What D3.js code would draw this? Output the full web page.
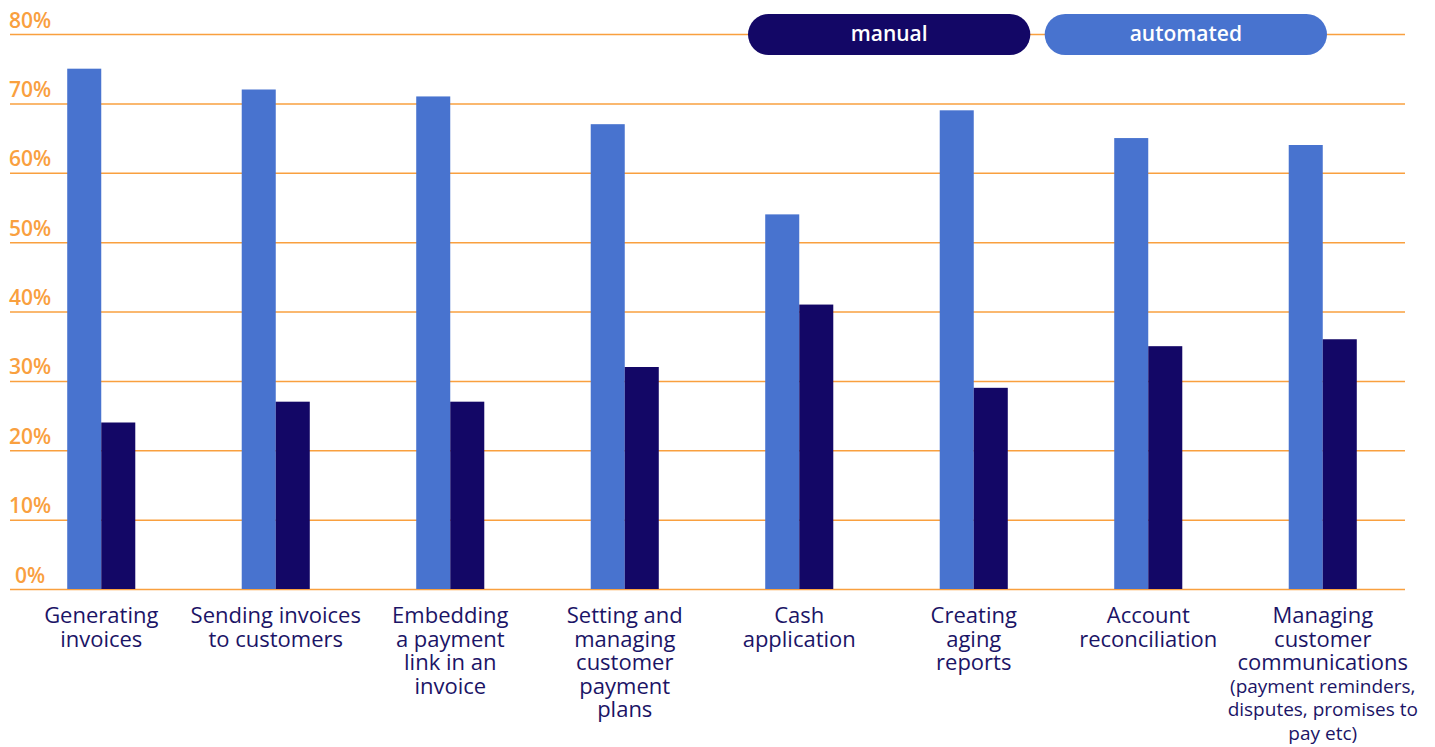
<!DOCTYPE html>
<html>
<head>
<meta charset="utf-8">
<script src="https://cdn.jsdelivr.net/npm/d3@7"></script>
<style>
  body { margin: 0; background: #fff; }
  svg text { font-family: "Open Sans", sans-serif; }
</style>
</head>
<body>
<div id="chart"></div>
<script>
const categories = [
  "Generating invoices",
  "Sending invoices to customers",
  "Embedding a payment link in an invoice",
  "Setting and managing customer payment plans",
  "Cash application",
  "Creating aging reports",
  "Account reconciliation",
  "Managing customer communications"
];
const labelLines = [
  ["Generating", "invoices"],
  ["Sending invoices", "to customers"],
  ["Embedding", "a payment", "link in an", "invoice"],
  ["Setting and", "managing", "customer", "payment", "plans"],
  ["Cash", "application"],
  ["Creating", "aging", "reports"],
  ["Account", "reconciliation"],
  ["Managing", "customer", "communications"]
];
const noteLines = [[], [], [], [], [], [], [], ["(payment reminders,", "disputes, promises to", "pay etc)"]];
const automated = [75, 72, 71, 67, 54, 69, 65, 64];
const manual = [24, 27, 27, 32, 41, 29, 35, 36];
const series = ["automated", "manual"];
const legendOrder = ["manual", "automated"];
const yTicks = [0, 10, 20, 30, 40, 50, 60, 70, 80];

const colors = {automated: "#4873cf", manual: "#130766"};
const orange = "#f9a03f";
const navy = "#1b1466";

const width = 1435, height = 747;

const svg = d3.select("#chart").append("svg")
  .attr("width", width)
  .attr("height", height);

const x = d3.scaleBand().domain(categories).range([14, 1410]).paddingInner(0.61).paddingOuter(0.305);
const xs = d3.scaleBand().domain(series).range([0, x.bandwidth()]);
const y = d3.scaleLinear().domain([0, 80]).range([589, 34]);

// gridlines + tick labels
const yAxis = svg.append("g")
  .call(d3.axisLeft(y).tickValues(yTicks).tickSize(-(1405 - 10)).tickFormat(d => d + "%"))
  .attr("transform", "translate(10,0)");
yAxis.select(".domain").remove();
yAxis.selectAll(".tick line").attr("stroke", orange).attr("stroke-width", 1.5);
yAxis.selectAll(".tick text")
  .attr("x", 20).attr("dy", -7)
  .attr("text-anchor", "middle")
  .attr("fill", orange)
  .style("font-size", "21px").style("font-weight", 600);

// bars
const data = categories.map((c, i) => ({cat: c, automated: automated[i], manual: manual[i]}));
const groups = svg.selectAll("g.grp").data(data).enter().append("g")
  .attr("class", "grp")
  .attr("transform", d => `translate(${x(d.cat)},0)`);
groups.selectAll("rect")
  .data(d => series.map(s => ({s, v: d[s]})))
  .enter().append("rect")
  .attr("x", d => xs(d.s))
  .attr("y", d => y(d.v))
  .attr("width", xs.bandwidth())
  .attr("height", d => y(0) - y(d.v))
  .attr("fill", d => colors[d.s]);

// x labels
categories.forEach((c, i) => {
  const cx = x(c) + x.bandwidth() / 2;
  const t = svg.append("text").attr("text-anchor", "middle").attr("fill", navy);
  labelLines[i].forEach((l, j) => {
    t.append("tspan").attr("x", cx).attr("y", 623 + j * 23.5)
      .style("font-size", "22px").text(l);
  });
  const n = labelLines[i].length;
  noteLines[i].forEach((l, j) => {
    t.append("tspan").attr("x", cx).attr("y", 623 + n * 23.5 + j * 23.5 - 1)
      .style("font-size", "19px").text(l);
  });
});

// legend pills
const lx = d3.scaleBand().domain(legendOrder).range([748, 1327]).paddingInner(0.0485);
const leg = svg.selectAll("g.leg").data(legendOrder).enter().append("g")
  .attr("class", "leg")
  .attr("transform", d => `translate(${lx(d)},14)`);
leg.append("rect")
  .attr("width", lx.bandwidth()).attr("height", 41)
  .attr("rx", 20.5)
  .attr("fill", d => colors[d]);
leg.append("text")
  .attr("x", lx.bandwidth() / 2).attr("y", 27)
  .attr("text-anchor", "middle")
  .attr("fill", "#fff")
  .style("font-size", "21px").style("font-weight", 600)
  .text(d => d);
</script>
</body>
</html>
